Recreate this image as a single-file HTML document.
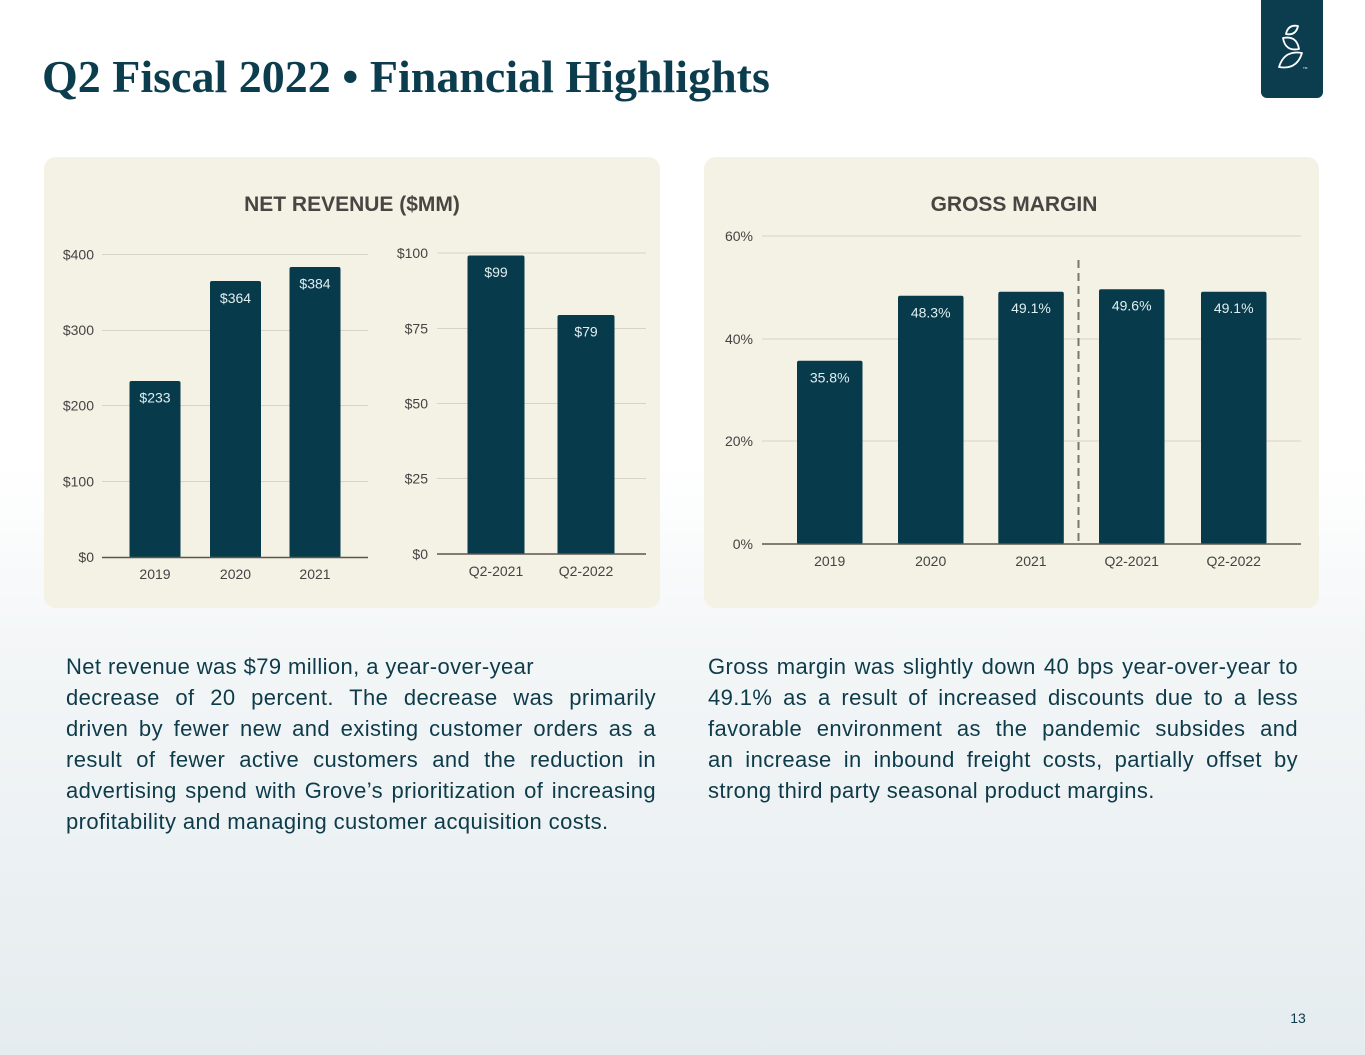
<!DOCTYPE html>
<html>
<head>
<meta charset="utf-8">
<style>
  html,body{margin:0;padding:0;}
  body{width:1365px;height:1055px;position:relative;overflow:hidden;
    background:linear-gradient(to bottom,#ffffff 0%,#ffffff 44%,#f3f6f7 62%,#e5ecef 100%);
    font-family:"Liberation Sans",Arial,sans-serif;}
  svg{position:absolute;left:0;top:0;}
  .para{position:absolute;width:590px;color:#0d3b4a;font-size:22px;line-height:31px;letter-spacing:0.4px;}
  .para div{white-space:nowrap;text-align:justify;text-align-last:justify;}
  .para div.last{text-align-last:left;}
</style>
</head>
<body>
<svg width="1365" height="1055" viewBox="0 0 1365 1055" xmlns="http://www.w3.org/2000/svg">
  <!-- Title -->
  <text x="42" y="92" font-family="Liberation Serif, serif" font-weight="bold" font-size="46" fill="#0b3d4f">Q2 Fiscal 2022 • Financial Highlights</text>

  <!-- Logo -->
  <rect x="1261" y="-10" width="62" height="108" rx="6" fill="#0b3d4f"/>
  <g fill="none" stroke="#ffffff" stroke-width="1.8" stroke-linejoin="round">
    <path d="M1286,34 Q1288.1,24.2 1298,26 Q1295.9,35.8 1286,34 Z"/>
    <path d="M1283,38 Q1296.7,35.3 1299,49 Q1285.3,51.7 1283,38 Z"/>
    <path d="M1279,67 Q1284.3,49.8 1302,53 Q1296.7,70.2 1279,67 Z"/>
  </g>
  <text x="1303" y="69" font-size="3" fill="#fff">TM</text>

  <!-- Panels -->
  <rect x="44" y="157" width="616" height="451" rx="12" fill="#f4f1e5"/>
  <rect x="704" y="157" width="615" height="451" rx="12" fill="#f4f1e5"/>

  <!-- Panel titles -->
  <text x="352" y="211" text-anchor="middle" font-size="21" font-weight="bold" fill="#474642">NET REVENUE ($MM)</text>
  <text x="1014" y="211" text-anchor="middle" font-size="21" font-weight="bold" fill="#474642">GROSS MARGIN</text>

  <!-- Left chart 1 -->
  <g stroke="#d8d3c6" stroke-width="1">
    <line x1="102" y1="254.5" x2="368" y2="254.5"/>
    <line x1="102" y1="330.5" x2="368" y2="330.5"/>
    <line x1="102" y1="405.5" x2="368" y2="405.5"/>
    <line x1="102" y1="481.5" x2="368" y2="481.5"/>
  </g>
  <g font-size="14" fill="#444" text-anchor="end">
    <text x="94" y="259.5">$400</text>
    <text x="94" y="335">$300</text>
    <text x="94" y="410.5">$200</text>
    <text x="94" y="486.5">$100</text>
    <text x="94" y="562">$0</text>
  </g>
  <g fill="#073b4c">
    <rect x="129.5" y="381" width="51" height="177" rx="2"/>
    <rect x="210" y="281" width="51" height="277" rx="2"/>
    <rect x="289.5" y="267" width="51" height="291" rx="2"/>
  </g>
  <line x1="102" y1="557.5" x2="368" y2="557.5" stroke="#5c564c" stroke-width="1.5"/>
  <g font-size="14" fill="#e2edf0" text-anchor="middle">
    <text x="155" y="402.5">$233</text>
    <text x="235.5" y="303">$364</text>
    <text x="315" y="288.5">$384</text>
  </g>
  <g font-size="14" fill="#444" text-anchor="middle">
    <text x="155" y="579">2019</text>
    <text x="235.5" y="579">2020</text>
    <text x="315" y="579">2021</text>
  </g>

  <!-- Left chart 2 -->
  <g stroke="#d8d3c6" stroke-width="1">
    <line x1="437" y1="253" x2="646" y2="253"/>
    <line x1="437" y1="328.5" x2="646" y2="328.5"/>
    <line x1="437" y1="403.5" x2="646" y2="403.5"/>
    <line x1="437" y1="478.5" x2="646" y2="478.5"/>
  </g>
  <g font-size="14" fill="#444" text-anchor="end">
    <text x="428" y="258">$100</text>
    <text x="428" y="333.5">$75</text>
    <text x="428" y="408.5">$50</text>
    <text x="428" y="483.5">$25</text>
    <text x="428" y="559">$0</text>
  </g>
  <g fill="#073b4c">
    <rect x="467.5" y="255.5" width="57" height="299" rx="2"/>
    <rect x="557.5" y="315" width="57" height="239.5" rx="2"/>
  </g>
  <line x1="437" y1="554" x2="646" y2="554" stroke="#5c564c" stroke-width="1.5"/>
  <g font-size="14" fill="#e2edf0" text-anchor="middle">
    <text x="496" y="277">$99</text>
    <text x="586" y="336.5">$79</text>
  </g>
  <g font-size="14" fill="#444" text-anchor="middle">
    <text x="496" y="576">Q2-2021</text>
    <text x="586" y="576">Q2-2022</text>
  </g>

  <!-- Gross margin chart -->
  <g stroke="#d8d3c6" stroke-width="1">
    <line x1="762" y1="236" x2="1301" y2="236"/>
    <line x1="762" y1="339" x2="1301" y2="339"/>
    <line x1="762" y1="441" x2="1301" y2="441"/>
  </g>
  <g font-size="14" fill="#444" text-anchor="end">
    <text x="753" y="241">60%</text>
    <text x="753" y="344">40%</text>
    <text x="753" y="446">20%</text>
    <text x="753" y="549">0%</text>
  </g>
  <g fill="#073b4c">
    <rect x="797" y="360.7" width="65.5" height="183.5" rx="2"/>
    <rect x="898" y="295.7" width="65.5" height="248.5" rx="2"/>
    <rect x="998.3" y="291.7" width="65.5" height="252.5" rx="2"/>
    <rect x="1099" y="289.3" width="65.5" height="255" rx="2"/>
    <rect x="1201" y="291.7" width="65.5" height="252.5" rx="2"/>
  </g>
  <line x1="1078.5" y1="260" x2="1078.5" y2="542" stroke="#7a7670" stroke-width="2" stroke-dasharray="8,5"/>
  <line x1="762" y1="544" x2="1301" y2="544" stroke="#5c564c" stroke-width="1.5"/>
  <g font-size="14" fill="#e2edf0" text-anchor="middle">
    <text x="829.7" y="382.5">35.8%</text>
    <text x="930.7" y="317.5">48.3%</text>
    <text x="1031" y="313">49.1%</text>
    <text x="1131.7" y="310.5">49.6%</text>
    <text x="1233.7" y="313">49.1%</text>
  </g>
  <g font-size="14" fill="#444" text-anchor="middle">
    <text x="829.7" y="566">2019</text>
    <text x="930.7" y="566">2020</text>
    <text x="1031" y="566">2021</text>
    <text x="1131.7" y="566">Q2-2021</text>
    <text x="1233.7" y="566">Q2-2022</text>
  </g>

  <!-- Page number -->
  <text x="1298" y="1023" text-anchor="middle" font-size="14" fill="#0d3b4a">13</text>
</svg>

<div class="para" style="left:66px;top:651px;">
  <div class="last">Net revenue was $79 million, a year-over-year</div>
  <div>decrease of 20 percent. The decrease was primarily</div>
  <div>driven by fewer new and existing customer orders as a</div>
  <div>result of fewer active customers and the reduction in</div>
  <div>advertising spend with Grove’s prioritization of increasing</div>
  <div class="last">profitability and managing customer acquisition costs.</div>
</div>

<div class="para" style="left:708px;top:651px;">
  <div>Gross margin was slightly down 40 bps year-over-year to</div>
  <div>49.1% as a result of increased discounts due to a less</div>
  <div>favorable environment as the pandemic subsides and</div>
  <div>an increase in inbound freight costs, partially offset by</div>
  <div class="last">strong third party seasonal product margins.</div>
</div>
</body>
</html>
